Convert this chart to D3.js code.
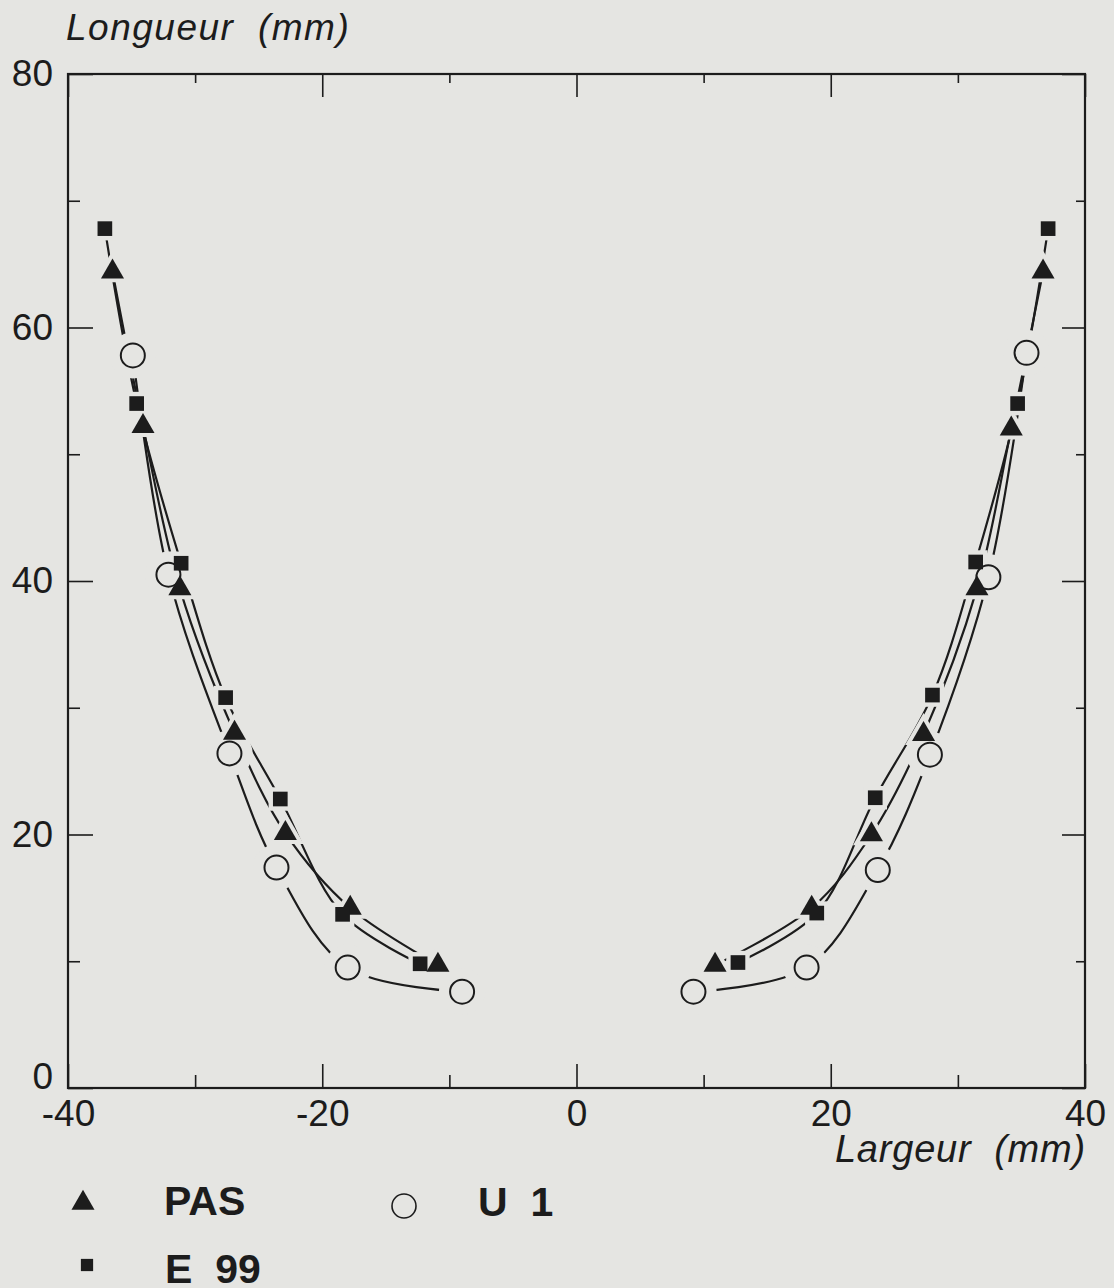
<!DOCTYPE html>
<html>
<head>
<meta charset="utf-8">
<script src="https://cdn.jsdelivr.net/npm/d3@7"></script>
<style>
	body { margin:0; background:#e5e5e2; }
	svg { display:block; }
	text { fill:#1c1c1c; font-family:"Liberation Sans", Arial, sans-serif; }
</style>
</head>
<body>
<div id="chart"></div>
<script>
// values, [largeur, longueur] in mm
let pasLeft  = [[-36.5,64.4],[-34.1,52.2],[-31.2,39.4],[-26.9,28.0],[-22.9,20.1],[-17.8,14.2],[-10.9,9.7]]
let pasRight = [[36.7,64.4],[34.2,52.0],[31.5,39.4],[27.3,27.9],[23.2,20.0],[18.5,14.2],[10.9,9.7]]
let e99Left  = [[-37.1,67.8],[-34.6,54.0],[-31.1,41.4],[-27.6,30.8],[-23.3,22.8],[-18.4,13.7],[-12.3,9.8]]
let e99Right = [[37.1,67.8],[34.7,54.0],[31.4,41.5],[28.0,31.0],[23.5,22.9],[18.9,13.8],[12.7,9.9]]
let u1Left   = [[-34.9,57.8],[-32.1,40.5],[-27.3,26.4],[-23.6,17.4],[-18.0,9.5],[-9.0,7.6]]
let u1Right  = [[35.4,58.0],[32.4,40.3],[27.8,26.3],[23.7,17.2],[18.1,9.5],[9.2,7.6]]

let xTicks = [-40,-20,0,20,40]
let xMinor = [-30,-10,10,30]
let yTicks = [0,20,40,60,80]
let yMinor = [10,30,50,70]

let legendItems = [
	{label:"PAS", symbol:"triangle", mx:83, my:1203, tx:164, ty:1215},
	{label:"U  1", symbol:"circle", mx:404, my:1206, tx:478, ty:1216},
	{label:"E  99", symbol:"square", mx:87, my:1265, tx:165, ty:1283}
]

let bg = "#e5e5e2"
let ink = "#1c1c1c"

let margin = {top:74, left:68}
let fullWidth = 1114
let fullHeight = 1288
let width = 1085 - margin.left
let height = 1088 - margin.top

let svg = d3.select("#chart").append("svg")
	.attr("width", fullWidth)
	.attr("height", fullHeight)
	.style("background", bg)

let g = svg.append("g").attr("transform", `translate(${margin.left},${margin.top})`)

let x = d3.scaleLinear().domain([-40,40]).range([0,width])
let y = d3.scaleLinear().domain([0,80]).range([height,0])

// axes, ticks pointing inward on all four sides
let axisStyle = sel => {
	sel.select(".domain").remove()
	sel.selectAll("line").attr("stroke", ink).attr("stroke-width", 1.6)
	sel.selectAll("text").style("font-size","37px").attr("fill", ink)
}

g.append("g").attr("transform", `translate(0,${height})`)
	.call(d3.axisBottom(x).tickValues(xTicks).tickSize(-24).tickPadding(12).tickFormat(d=>String(d)))
	.call(axisStyle)
g.append("g").attr("transform", `translate(0,${height})`)
	.call(d3.axisBottom(x).tickValues(xMinor).tickSize(-13).tickFormat(""))
	.call(axisStyle)
g.append("g")
	.call(d3.axisTop(x).tickValues(xTicks).tickSize(-23).tickFormat(""))
	.call(axisStyle)
g.append("g")
	.call(d3.axisTop(x).tickValues(xMinor).tickSize(-9).tickFormat(""))
	.call(axisStyle)

g.append("g")
	.call(d3.axisLeft(y).tickValues(yTicks).tickSize(-25).tickPadding(15).tickFormat(d=>String(d)))
	.call(axisStyle)
	.call(sel=>sel.selectAll("text").filter(d=>d==0).attr("dy","0.0em"))
g.append("g")
	.call(d3.axisLeft(y).tickValues(yMinor).tickSize(-12).tickFormat(""))
	.call(axisStyle)
g.append("g").attr("transform", `translate(${width},0)`)
	.call(d3.axisRight(y).tickValues(yTicks).tickSize(-23).tickFormat(""))
	.call(axisStyle)
g.append("g").attr("transform", `translate(${width},0)`)
	.call(d3.axisRight(y).tickValues(yMinor).tickSize(-9).tickFormat(""))
	.call(axisStyle)

g.append("rect")
	.attr("width", width).attr("height", height)
	.attr("fill","none").attr("stroke", ink).attr("stroke-width", 2.2)

// axis titles
svg.append("text")
	.attr("x", 66).attr("y", 40)
	.style("font-size","37px").style("font-style","italic").style("letter-spacing","1.5px")
	.attr("xml:space","preserve")
	.text("Longueur  (mm)")
svg.append("text")
	.attr("x", 1086).attr("y", 1162)
	.attr("text-anchor","end")
	.style("font-size","38px").style("font-style","italic").style("letter-spacing","0.8px")
	.attr("xml:space","preserve")
	.text("Largeur  (mm)")

// curves
let line = d3.line()
	.x(d=>x(d[0]))
	.y(d=>y(d[1]))
	.curve(d3.curveCatmullRom.alpha(0.5))

let series = [
	{name:"U1", symbol:"circle", sides:[u1Left,u1Right]},
	{name:"PAS", symbol:"triangle", sides:[pasLeft,pasRight]},
	{name:"E99", symbol:"square", sides:[e99Left,e99Right]}
]

series.forEach(s=>{
	s.sides.forEach(pts=>{
		g.append("path")
			.datum(pts)
			.attr("d", line)
			.attr("fill","none")
			.attr("stroke", ink)
			.attr("stroke-width", 2.2)
	})
})

let shapes = {
	triangle: {type:d3.symbolTriangle, size:230},
	square: {type:d3.symbolSquare, size:215}
}

let drawMarker = (sel, symbol, scale) => {
	if(symbol == "circle"){
		sel.append("circle").attr("r", 12*scale + (scale>1?4:0))
			.attr("fill", bg)
			.attr("stroke", scale>1 ? "none" : ink)
			.attr("stroke-width", 2)
	} else {
		let sh = shapes[symbol]
		sel.append("path")
			.attr("d", d3.symbol().type(sh.type).size(sh.size*scale*scale))
			.attr("fill", scale>1 ? bg : ink)
	}
}

// halos first so the curves stop short of every marker, then the markers
;[1.6,1].forEach(scale=>{
	series.forEach(s=>{
		s.sides.forEach(pts=>{
			pts.forEach(d=>{
				let m = g.append("g").attr("transform", `translate(${x(d[0])},${y(d[1])})`)
				drawMarker(m, s.symbol, scale)
			})
		})
	})
})

// legend
let legend = svg.append("g")
legendItems.forEach(item=>{
	let m = legend.append("g").attr("transform", `translate(${item.mx},${item.my})`)
	if(item.symbol == "circle"){
		m.append("circle").attr("r", 12).attr("fill", "none").attr("stroke", ink).attr("stroke-width", 1.6)
	} else if(item.symbol == "triangle"){
		m.append("path").attr("d", d3.symbol().type(d3.symbolTriangle).size(230)).attr("fill", ink)
	} else {
		m.append("path").attr("d", d3.symbol().type(d3.symbolSquare).size(150)).attr("fill", ink)
	}
	legend.append("text")
		.attr("x", item.tx)
		.attr("y", item.ty)
		.style("font-size","41px").style("font-weight","bold")
		.attr("xml:space","preserve")
		.text(item.label)
})
</script>
</body>
</html>
